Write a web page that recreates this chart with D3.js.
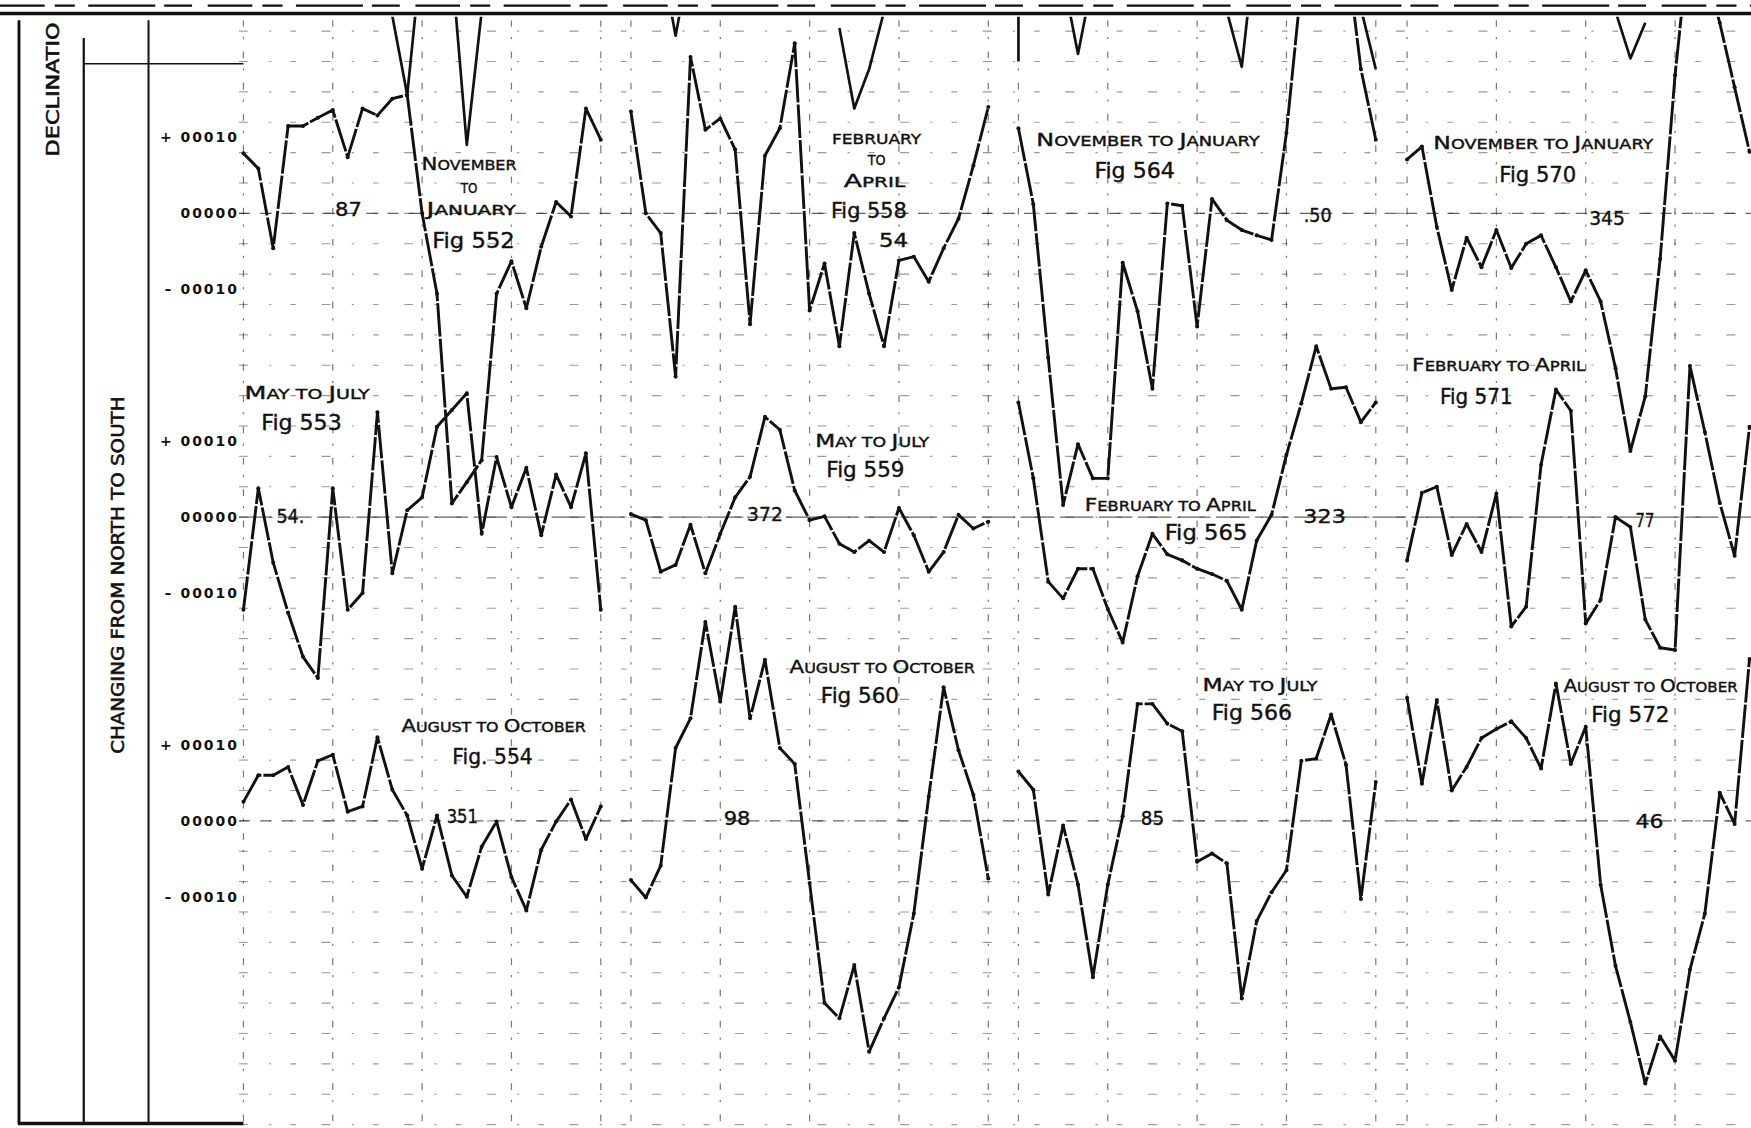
<!DOCTYPE html>
<html><head><meta charset="utf-8">
<script src="https://cdn.jsdelivr.net/npm/d3@7"></script>
<style>html,body{margin:0;padding:0;background:#fff;}svg{display:block;}</style>
</head><body>
<svg id="chart" width="1751" height="1128" viewBox="0 0 1568 1010"></svg>
<script>
// ---------------- DATA ----------------
// Declination change, in units of 0.00001, one value per step (25 steps per figure)
const fig552 = [7.9, 5.9, -4.6, 11.5, 11.5, 12.6, 13.6, 7.4, 13.8, 12.9, 15.1, 15.6, 0, -10.6, -38.2, -35.4, -32.5, -10.6, -6.3, -12.5, -4.4, 1.5, -0.4, 13.8, 9.7];
const fig553 = [-12.2, 3.8, -6.0, -12.6, -18.4, -21.2, 3.8, -12.2, -10.0, 13.8, -7.4, 0.9, 2.6, 11.9, 14.1, 16.3, -2.2, 7.9, 1.3, 6.5, -2.4, 5.6, 1.3, 8.4, -12.2];
const fig554 = [2.5, 6.0, 6.0, 7.1, 2.1, 7.9, 8.7, 1.2, 1.9, 11.0, 4.1, 0.7, -6.3, 0.7, -7.2, -10.0, -3.4, -0.1, -7.4, -11.8, -3.8, -0.1, 2.8, -2.4, 1.9];
const fig558 = [13.4, 0, -2.6, -21.5, 20.6, 11.0, 12.5, 8.4, -14.6, 7.6, 11.2, 22.4, -12.8, -6.6, -17.5, -2.6, -10.6, -17.5, -6.2, -5.7, -9.0, -4.6, -0.7, 6.3, 14.0];
const fig559 = [0.4, -0.4, -7.2, -6.3, -1.0, -7.4, -2.2, 2.6, 5.3, 13.2, 11.5, 3.5, -0.4, 0.1, -3.5, -4.6, -3.1, -4.6, 1.2, -2.4, -7.2, -4.6, 0.3, -1.5, -0.6];
const fig560 = [-7.8, -10.1, -5.9, 9.6, 13.5, 26.2, 15.7, 28.2, 13.5, 21.2, 9.6, 7.5, -8.2, -24.0, -26.0, -19.0, -30.4, -26.0, -21.9, -12.2, 3.2, 17.6, 9.3, 3.4, -7.6];
const fig564 = [11.2, 1.2, -19.0, -38.4, -30.4, -34.9, -34.9, -6.5, -12.9, -23.1, 1.3, 1.0, -14.9, 1.9, -0.9, -2.2, -2.9, -3.5, 10.6, 30.2, 40, 40, 35, 19.0, 9.7];
const fig565 = [15.1, 5.1, -8.5, -10.7, -6.8, -6.8, -12.1, -16.5, -7.8, -2.2, -4.9, -5.7, -6.8, -7.5, -8.4, -12.2, -3.1, 0.3, 8.2, 15.0, 22.5, 16.9, 17.1, 12.5, 15.1];
const fig566 = [6.5, 4.1, -9.7, -0.6, -8.4, -20.6, -8.4, 0.6, 15.4, 15.4, 12.8, 11.8, -5.4, -4.3, -5.6, -23.4, -13.2, -9.4, -6.5, 7.9, 8.2, 14.0, 7.4, -10.3, 5.1];
const fig570 = [7.1, 8.8, -1.8, -10.1, -3.2, -7.1, -2.2, -7.2, -4.0, -2.9, -7.1, -11.6, -7.5, -11.6, -20.4, -31.3, -24.1, -6.0, 18.2, 36.9, 32.5, 25.1, 16.6, 8.1];
const fig571 = [-5.7, 3.2, 4.0, -5.0, -0.9, -4.6, 3.1, -14.4, -11.8, 6.9, 16.8, 14.0, -14.0, -10.9, 0, -1.3, -13.5, -17.2, -17.5, 19.9, 11.2, 1.9, -5.1, 11.9];
const fig572 = [16.2, 4.9, 15.9, 4.0, 7.1, 10.9, 12.1, 13.1, 10.9, 6.9, 18.1, 7.5, 12.4, -8.4, -19.1, -26.5, -34.6, -28.4, -31.6, -19.6, -12.2, 3.7, -0.4, 21.3];

const figNumbers = [552, 553, 554, 558, 559, 560, 564, 565, 566, 570, 571, 572];
const figSeries  = [fig552, fig553, fig554, fig558, fig559, fig560, fig564, fig565, fig566, fig570, fig571, fig572];
const figPeriods = ["NOVEMBER TO JANUARY", "MAY TO JULY", "AUGUST TO OCTOBER",
                    "FEBRUARY TO APRIL", "MAY TO JULY", "AUGUST TO OCTOBER",
                    "NOVEMBER TO JANUARY", "FEBRUARY TO APRIL", "MAY TO JULY",
                    "NOVEMBER TO JANUARY", "FEBRUARY TO APRIL", "AUGUST TO OCTOBER"];
const figRotations = ["87", "54.", "351", "54", "372", "98", ".50", "323", "85", "345", "77", "46"];

// curves running in from the plate above (column, step indices, values on top row scale)
const overflowCol = [0, 0, 1, 1, 2, 2, 2, 2, 3];
const overflowK = [[10, 11, 12], [14, 15, 16], [2, 3, 4], [14, 15, 16, 17], [0, 0], [3, 4, 5], [14, 15, 16], [23, 24], [14, 15, 16]];
const overflowV = [[26, 15.6, 35], [32.5, 9.0, 26.6], [34, 23.4, 34], [24.4, 13.8, 19.0, 26.6], [30, 20], [31, 21, 31], [26.6, 19.3, 36.9], [27, 19], [26.6, 20.4, 25.1]];

const tickValues = [10, 0, -10];
const tickLabels = ["+ 00010", "00000", "\u2013 00010"];

// ---------------- LAYOUT ----------------
const colX0 = [218, 565, 912, 1260], colW = 320, steps = 24;
const rowZero = [191, 463, 735], tenUnits = 68;
const xs = colX0.map(x0 => d3.scaleLinear().domain([0, steps]).range([x0, x0 + colW]));
const ys = rowZero.map(z => d3.scaleLinear().domain([-10, 10]).range([z + tenUnits, z - tenUnits]));

// annotation placement in data coordinates (col, row, step, value)
const notes = [
  {t:"87", c:0,r:0,k:7.05,v:0.6,kind:"num",w:24},
  {t:"NOVEMBER", c:0,r:0,k:15.15,v:6.5,kind:"cap",w:85},
  {t:"TO", c:0,r:0,k:15.15,v:3.5,kind:"capsmall",w:15},
  {t:"JANUARY", c:0,r:0,k:15.3,v:0.6,kind:"cap",w:80},
  {t:"Fig 552", c:0,r:0,k:15.45,v:-3.5,kind:"fig",w:74},
  {t:"MAY TO JULY", c:0,r:1,k:4.28,v:16.3,kind:"cap",w:112},
  {t:"Fig 553", c:0,r:1,k:3.9,v:12.5,kind:"fig",w:72},
  {t:"54.", c:0,r:1,k:3.15,v:0.15,kind:"num",w:25},
  {t:"AUGUST TO OCTOBER", c:0,r:2,k:16.8,v:12.5,kind:"cap",w:165},
  {t:"Fig. 554", c:0,r:2,k:16.73,v:8.5,kind:"fig",w:72},
  {t:"351", c:0,r:2,k:14.7,v:0.7,kind:"num",w:28},
  {t:"FEBRUARY", c:1,r:0,k:16.5,v:10,kind:"capsmall",w:80},
  {t:"TO", c:1,r:0,k:16.5,v:7.2,kind:"capsmall",w:16},
  {t:"APRIL", c:1,r:0,k:16.35,v:4.3,kind:"cap",w:55},
  {t:"Fig 558", c:1,r:0,k:15.98,v:0.44,kind:"fig",w:68},
  {t:"54", c:1,r:0,k:17.63,v:-3.5,kind:"num",w:26},
  {t:"MAY TO JULY", c:1,r:1,k:16.2,v:10,kind:"cap",w:102},
  {t:"Fig 559", c:1,r:1,k:15.75,v:6.3,kind:"fig",w:70},
  {t:"372", c:1,r:1,k:9.0,v:0.44,kind:"num",w:32},
  {t:"AUGUST TO OCTOBER", c:1,r:2,k:16.88,v:20.3,kind:"cap",w:166},
  {t:"Fig 560", c:1,r:2,k:15.38,v:16.5,kind:"fig",w:70},
  {t:"98", c:1,r:2,k:7.13,v:0.44,kind:"num",w:24},
  {t:"NOVEMBER TO JANUARY", c:2,r:0,k:8.7,v:9.7,kind:"cap",w:200},
  {t:"Fig 564", c:2,r:0,k:7.8,v:5.7,kind:"fig",w:72},
  {t:".50", c:2,r:0,k:20.1,v:-0.15,kind:"num",w:25},
  {t:"FEBRUARY TO APRIL", c:2,r:1,k:10.2,v:1.6,kind:"cap",w:153},
  {t:"Fig 565", c:2,r:1,k:12.6,v:-2.05,kind:"fig",w:74},
  {t:"323", c:2,r:1,k:20.56,v:0.15,kind:"num",w:38},
  {t:"MAY TO JULY", c:2,r:2,k:16.22,v:17.9,kind:"cap",w:103},
  {t:"Fig 566", c:2,r:2,k:15.68,v:14.3,kind:"fig",w:72},
  {t:"85", c:2,r:2,k:9.0,v:0.44,kind:"num",w:21},
  {t:"NOVEMBER TO JANUARY", c:3,r:0,k:9.15,v:9.26,kind:"cap",w:197},
  {t:"Fig 570", c:3,r:0,k:8.78,v:5.15,kind:"fig",w:69},
  {t:"345", c:3,r:0,k:13.43,v:-0.6,kind:"num",w:32},
  {t:"FEBRUARY TO APRIL", c:3,r:1,k:6.15,v:20,kind:"cap",w:155},
  {t:"Fig 571", c:3,r:1,k:4.65,v:15.9,kind:"fig",w:65},
  {t:"77", c:3,r:1,k:15.98,v:-0.3,kind:"num",w:17},
  {t:"AUGUST TO OCTOBER", c:3,r:2,k:16.35,v:17.8,kind:"cap",w:156},
  {t:"Fig 572", c:3,r:2,k:15,v:14.1,kind:"fig",w:70},
  {t:"46", c:3,r:2,k:16.28,v:0,kind:"num",w:25}
];

const svg = d3.select("#chart");
const INK = "#111";
const FONT = "'DejaVu Sans', 'Liberation Sans', sans-serif";

// clip
const defs = svg.append("defs");
defs.append("clipPath").attr("id","plotClip").append("rect")
  .attr("x",200).attr("y",15).attr("width",1368).attr("height",995);
defs.append("clipPath").attr("id","gridClip").append("rect")
  .attr("x",214).attr("y",18).attr("width",1354).attr("height",990);

// ---------------- GRID ----------------
const grid = svg.append("g").attr("clip-path","url(#gridClip)");
const gridVals = d3.range(24, -121, -4);
grid.selectAll("line.h").data(gridVals).join("line")
  .attr("x1",214).attr("x2",1568)
  .attr("y1",d=>ys[0](d)).attr("y2",d=>ys[0](d))
  .attr("stroke","#222").attr("stroke-width",1).attr("opacity",0.45)
  .attr("stroke-dasharray","8 19 2 17 5 23");
const vGrid = [];
colX0.forEach((x0,c)=>[0,6,12,18,24].forEach(k=>vGrid.push({c,k})));
grid.selectAll("line.v").data(vGrid).join("line")
  .attr("x1",d=>xs[d.c](d.k)).attr("x2",d=>xs[d.c](d.k))
  .attr("y1",18).attr("y2",1008)
  .attr("stroke","#222").attr("stroke-width",1.1).attr("opacity",0.6)
  .attr("stroke-dasharray","6 9 2 11");
// zero lines
grid.selectAll("line.z").data(rowZero.map((z,r)=>r)).join("line")
  .attr("x1",214).attr("x2",1568)
  .attr("y1",r=>ys[r](0)).attr("y2",r=>ys[r](0))
  .attr("stroke","#222").attr("stroke-width",1.1).attr("opacity",0.7)
  .attr("stroke-dasharray",r=> r===1 ? "30 5" : "10 9");

// ---------------- FRAME ----------------
const frame = svg.append("g").attr("stroke",INK).attr("fill","none");
frame.append("line").attr("x1",0).attr("x2",1568).attr("y1",5).attr("y2",5).attr("stroke-width",2).attr("stroke-dasharray","40 9 18 12 60 8 25 14");
frame.append("line").attr("x1",0).attr("x2",1568).attr("y1",12).attr("y2",12).attr("stroke-width",3);
frame.append("line").attr("x1",17).attr("x2",17).attr("y1",18).attr("y2",1006).attr("stroke-width",2.6);
frame.append("line").attr("x1",75).attr("x2",75).attr("y1",34).attr("y2",1006).attr("stroke-width",2);
frame.append("line").attr("x1",133).attr("x2",133).attr("y1",18).attr("y2",1006).attr("stroke-width",1.8);
frame.append("line").attr("x1",75).attr("x2",218).attr("y1",57).attr("y2",57).attr("stroke-width",1.5);
frame.append("line").attr("x1",16).attr("x2",218).attr("y1",1006).attr("y2",1006).attr("stroke-width",3);

svg.append("text").attr("transform","translate(53,140) rotate(-90)")
  .attr("font-family",FONT).attr("font-size",15).attr("fill",INK)
  .attr("stroke",INK).attr("stroke-width",0.5)
  .attr("textLength",120).attr("lengthAdjust","spacingAndGlyphs")
  .text("DECLINATIO");
svg.append("text").attr("transform","translate(111,675) rotate(-90)")
  .attr("font-family",FONT).attr("font-size",15).attr("fill",INK)
  .attr("stroke",INK).attr("stroke-width",0.5)
  .attr("textLength",320).attr("lengthAdjust","spacingAndGlyphs")
  .text("CHANGING FROM NORTH TO SOUTH");

// ---------------- Y AXES ----------------
rowZero.forEach((z,r)=>{
  const ax = d3.axisLeft(ys[r]).tickValues(tickValues)
    .tickFormat((d,i)=>tickLabels[i]).tickSize(0).tickPadding(0);
  const g = svg.append("g").attr("transform","translate(214,0)").call(ax);
  g.select(".domain").remove();
  g.selectAll("text").attr("font-family",FONT).attr("font-size",12.5)
    .attr("font-weight","bold").attr("letter-spacing",1.8).attr("fill",INK);
});

// ---------------- CURVES ----------------
const plot = svg.append("g").attr("clip-path","url(#plotClip)");
const figs = figNumbers.map((n,i)=>({n, c:Math.floor(i/3), r:i%3, vals:figSeries[i]}));
figs.forEach(f=>{
  const line = d3.line().x((d,i)=>xs[f.c](i)).y(d=>ys[f.r](d));
  plot.append("path").datum(f.vals).attr("d",line)
    .attr("fill","none").attr("stroke",INK).attr("stroke-width",2.6)
    .attr("stroke-linejoin","round").attr("stroke-dasharray","30 1.8");
  plot.append("g").selectAll("circle").data(f.vals).join("circle")
    .attr("cx",(d,i)=>xs[f.c](i)).attr("cy",d=>ys[f.r](d)).attr("r",1.8).attr("fill",INK);
});
overflowCol.forEach((c,j)=>{
  const pts = overflowK[j].map((k,i)=>[k, overflowV[j][i]]);
  const line = d3.line().x(d=>xs[c](d[0])).y(d=>ys[0](d[1]));
  plot.append("path").datum(pts).attr("d",line)
    .attr("fill","none").attr("stroke",INK).attr("stroke-width",2.4)
    .attr("stroke-linejoin","round");
});

// ---------------- ANNOTATIONS ----------------
const ann = svg.append("g").attr("font-family",FONT).attr("fill",INK)
  .attr("stroke",INK).attr("stroke-width",0.35);
notes.forEach(n=>{
  const x = xs[n.c](n.k), yc = ys[n.r](n.v);
  const t = ann.append("text").attr("x",x).attr("text-anchor","middle")
    .attr("textLength",n.w).attr("lengthAdjust","spacingAndGlyphs");
  if (n.kind==="fig") {
    t.attr("y",yc+7).attr("font-size",19).text(n.t);
  } else if (n.kind==="num") {
    t.attr("y",yc+6.5).attr("font-size",18).text(n.t);
  } else {
    t.attr("y",yc+5.5);
    const words = n.t.split(" ");
    words.forEach((w,wi)=>{
      const bigFirst = n.kind==="cap" && w!=="TO";
      if (bigFirst) {
        t.append("tspan").attr("font-size",16).text(w[0]);
        t.append("tspan").attr("font-size",12).text(w.slice(1));
      } else {
        t.append("tspan").attr("font-size",12).text(w);
      }
      if (wi<words.length-1) t.append("tspan").attr("font-size",12).text(" ");
    });
  }
});
</script>
</body></html>
